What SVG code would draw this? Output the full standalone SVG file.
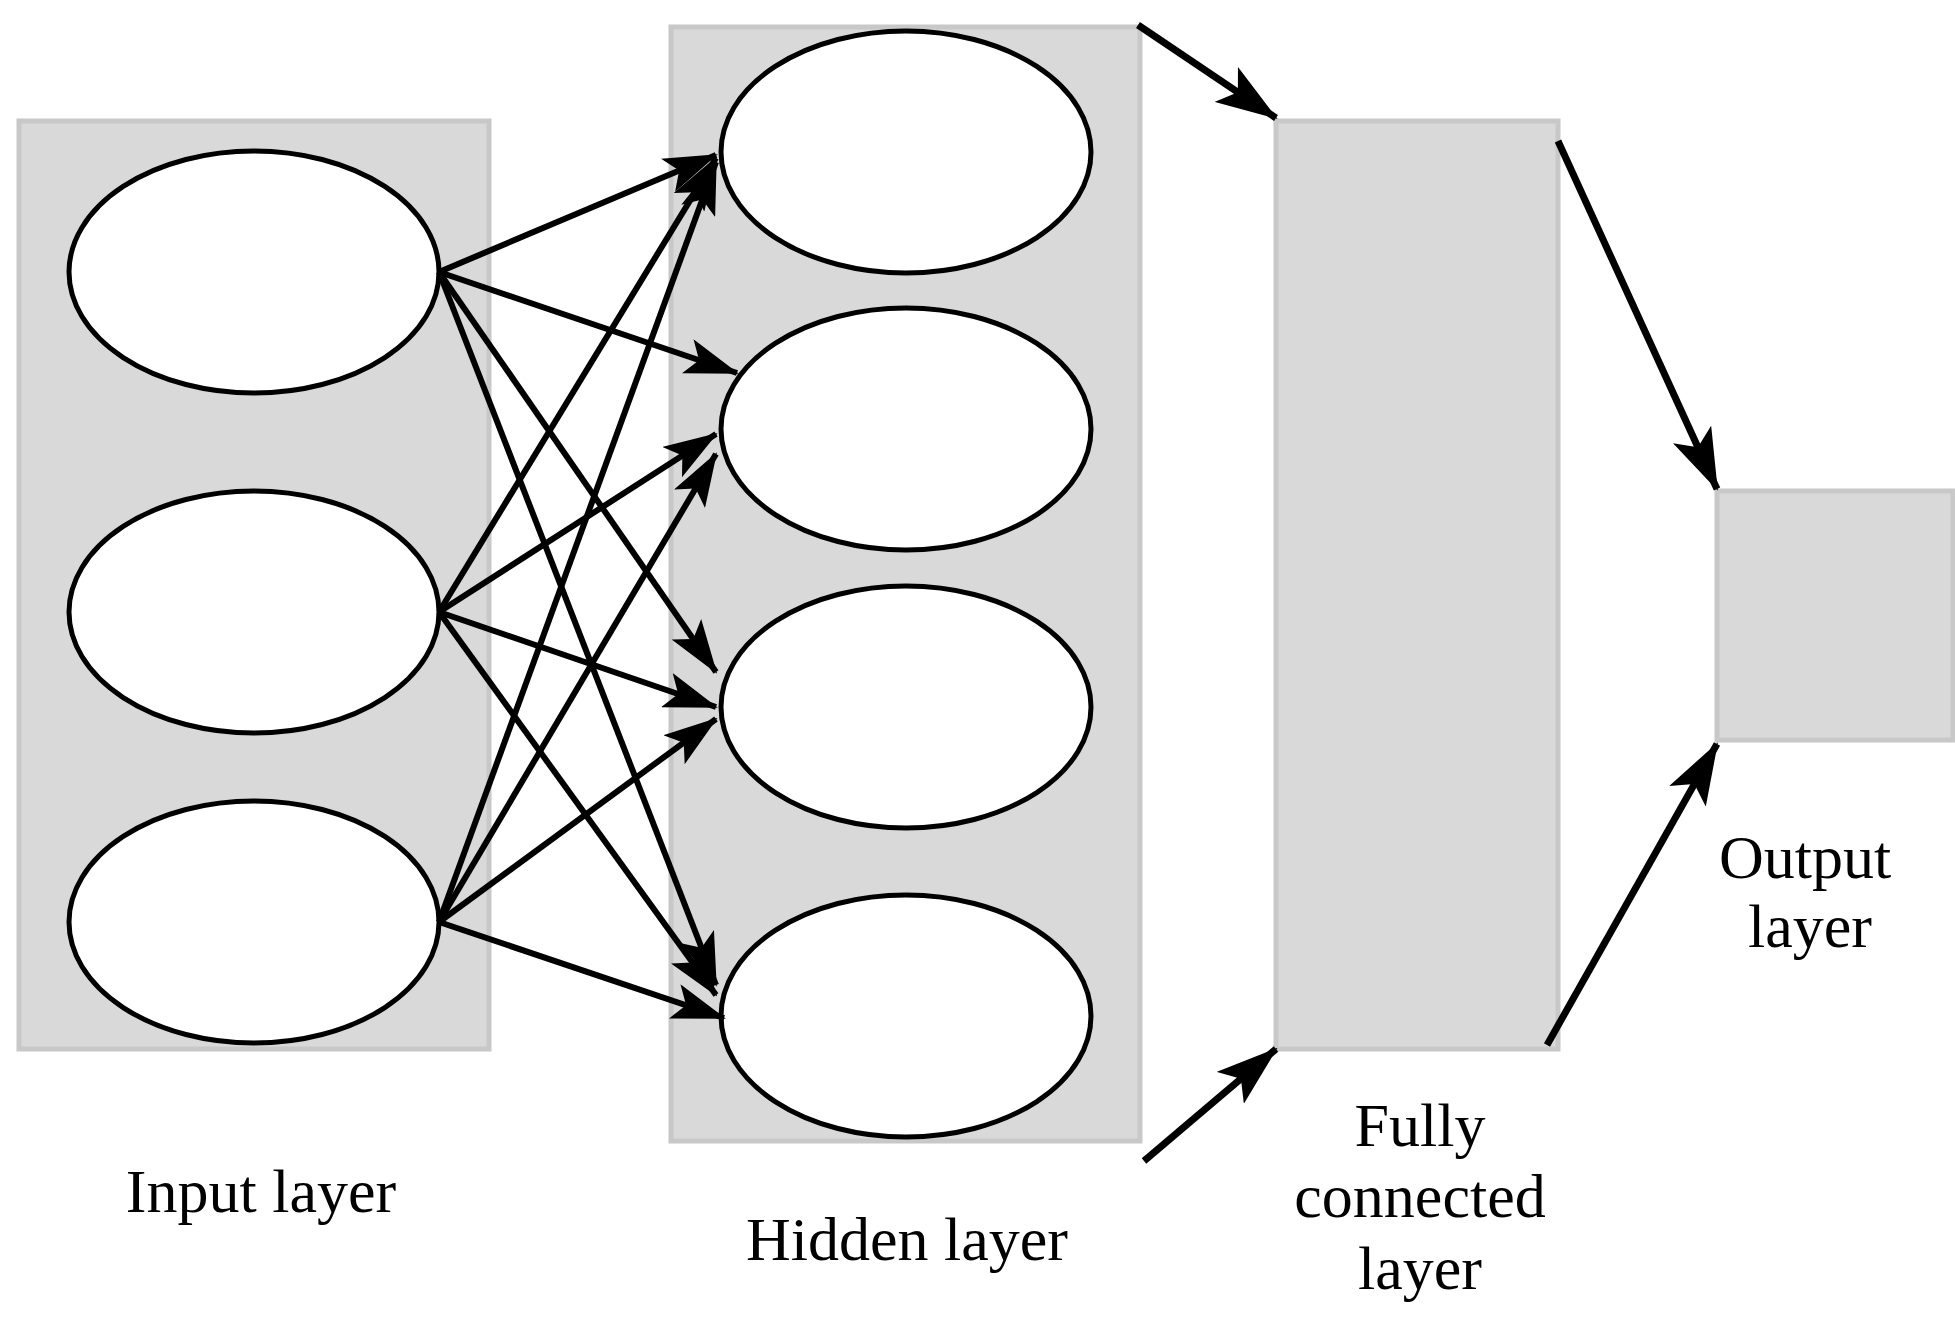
<svg xmlns="http://www.w3.org/2000/svg" width="1955" height="1330" viewBox="0 0 1955 1330">
<style>
.layer{fill:#d9d9d9;stroke:#c8c8c8;stroke-width:5}
.node{fill:#fff;stroke:#000;stroke-width:5}
.c{stroke:#000;stroke-width:6;fill:none;marker-end:url(#a)}
.C{stroke:#000;stroke-width:7;fill:none;marker-end:url(#b)}
text{font-family:"Liberation Serif",serif;font-size:62px;fill:#000;text-anchor:middle}
</style>
<defs>
<marker id="a" viewBox="0 0 54 36" refX="52" refY="18" markerWidth="54" markerHeight="36" markerUnits="userSpaceOnUse" orient="auto"><path d="M0,0 L54,18 L0,36 L12,18 z"/></marker>
<marker id="b" viewBox="0 0 62 42" refX="60" refY="21" markerWidth="62" markerHeight="42" markerUnits="userSpaceOnUse" orient="auto"><path d="M0,0 L62,21 L0,42 L14,21 z"/></marker>
</defs>
<g id="input-layer"><rect class="layer" x="19" y="121" width="470" height="928"/><text x="261" y="1212">Input layer</text></g>
<g id="hidden-layer"><rect class="layer" x="671" y="27" width="469" height="1114"/><text x="907" y="1260">Hidden layer</text></g>
<g id="fc-layer"><rect class="layer" x="1276" y="121" width="282" height="928"/><text x="1420" y="1146">Fully</text><text x="1420" y="1217">connected</text><text x="1420" y="1289">layer</text></g>
<g id="output-layer"><rect class="layer" x="1717" y="491" width="236" height="249"/><text x="1805" y="878">Output</text><text x="1810" y="947">layer</text></g>
<g id="i1"><ellipse class="node" cx="254" cy="272" rx="185" ry="121"/></g>
<g id="i2"><ellipse class="node" cx="254" cy="612" rx="185" ry="121"/></g>
<g id="i3"><ellipse class="node" cx="254" cy="922" rx="185" ry="121"/></g>
<g id="h1"><ellipse class="node" cx="906" cy="152" rx="185" ry="121"/></g>
<g id="h2"><ellipse class="node" cx="906" cy="429" rx="185" ry="121"/></g>
<g id="h3"><ellipse class="node" cx="906" cy="707" rx="185" ry="121"/></g>
<g id="h4"><ellipse class="node" cx="906" cy="1016" rx="185" ry="121"/></g>
<g id="connectors">
<line class="c" x1="439" y1="272" x2="716" y2="155"/>
<line class="c" x1="439" y1="272" x2="737" y2="373"/>
<line class="c" x1="439" y1="272" x2="716" y2="672"/>
<line class="c" x1="439" y1="272" x2="716" y2="985"/>
<line class="c" x1="439" y1="612" x2="716" y2="158"/>
<line class="c" x1="439" y1="612" x2="716" y2="434"/>
<line class="c" x1="439" y1="612" x2="716" y2="707"/>
<line class="c" x1="439" y1="612" x2="716" y2="995"/>
<line class="c" x1="439" y1="922" x2="716" y2="162"/>
<line class="c" x1="439" y1="922" x2="716" y2="454"/>
<line class="c" x1="439" y1="922" x2="716" y2="719"/>
<line class="c" x1="439" y1="922" x2="724" y2="1018"/>
<line class="C" x1="1138" y1="25" x2="1276" y2="118"/>
<line class="C" x1="1144" y1="1161" x2="1276" y2="1049"/>
<line class="C" x1="1558" y1="141" x2="1717" y2="489"/>
<line class="C" x1="1547" y1="1045" x2="1717" y2="744"/>
</g>
</svg>
